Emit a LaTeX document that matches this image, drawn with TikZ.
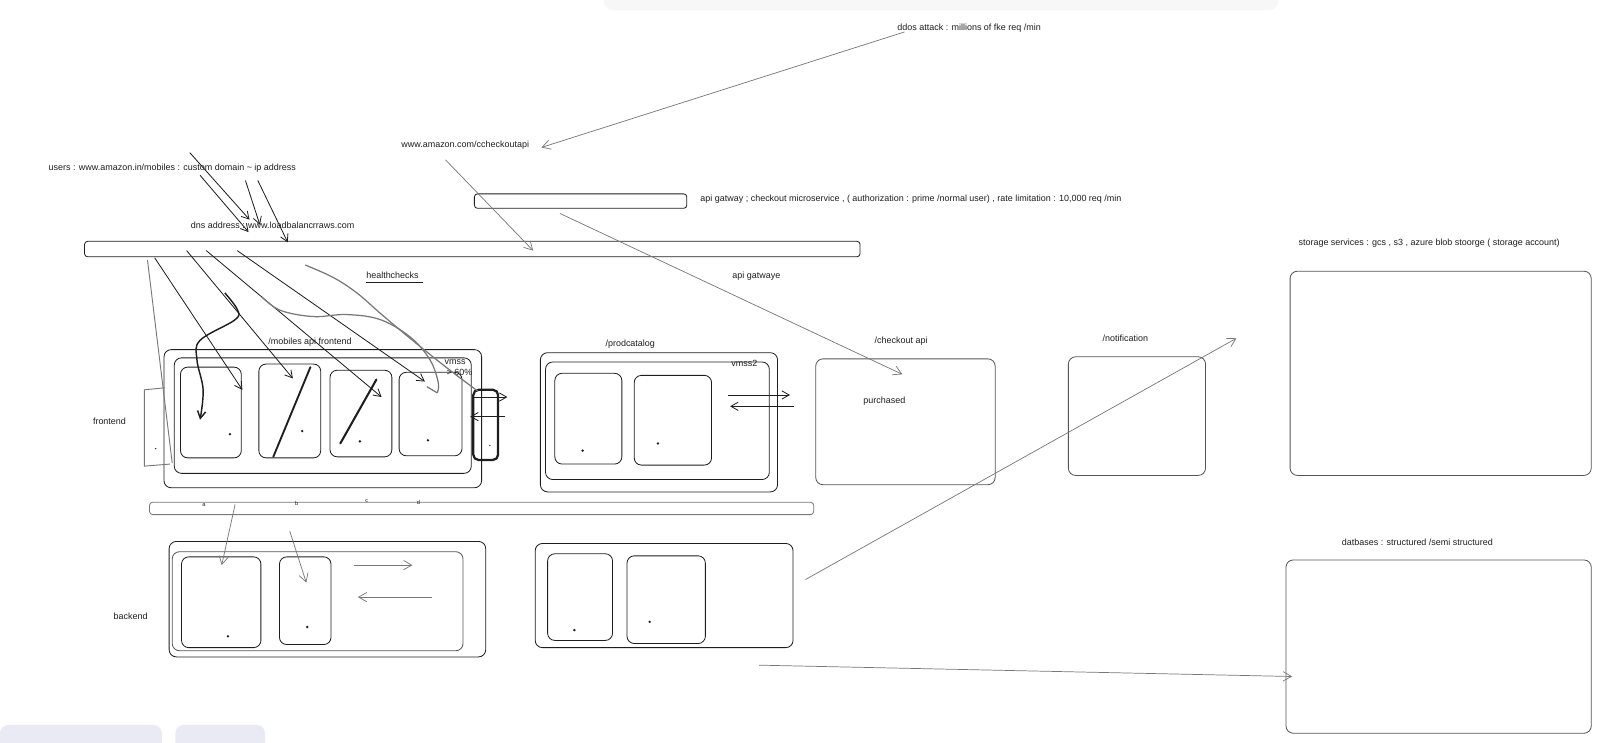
\documentclass[tikz,border=0pt]{standalone}
\usepackage{fontspec}
\setmainfont{Liberation Sans}
\usetikzlibrary{arrows.meta, positioning, fit}
\definecolor{cInk}{RGB}{30,30,30}
\definecolor{cSoft}{RGB}{120,120,120}
\definecolor{cMid}{RGB}{85,85,85}
\definecolor{cBtn}{RGB}{233,234,243}

\begin{document}
\begin{tikzpicture}[x=1pt, y=-1pt, font=\fontsize{8.7}{10}\selectfont,
            box/.style={draw=cInk, rounded corners=7pt, line width=0.8pt, inner sep=0pt},
            gbox/.style={box, draw=cMid},
            lbl/.style={anchor=west, inner sep=0pt, text=cInk},
            dot/.style={circle, fill=cInk, minimum size=2.6pt, inner sep=0pt},
            arr/.style={-{Straight Barb[length=7pt, width=8pt]}, cInk, line width=0.8pt},
            garr/.style={-{Straight Barb[length=8pt, width=9pt]}, cSoft, line width=0.7pt}]
            \useasboundingbox (0,0) rectangle (1568,720);
            % toolbar shadow and the two buttons
            \fill[gray!6, rounded corners=10pt] (585,-20) rectangle (1240,10);
            \fill[cBtn, rounded corners=8pt] (0,703) rectangle (157,735);
            \fill[cBtn, rounded corners=8pt] (170,703) rectangle (257,735);
            % boxes
            \foreach \n/\a/\b/\c/\d in {fo/159/339/467/473, fi/169/347/457/459,
                                        f1/175/356/234/444, f2/251/353/311/444,
                                        f3/320/359/380/443, f4/387/361/448/442,
                                        po/524/342/754/477, pi/529/351/746/465,
                                        p1/538/362/603/450, p2/615/364/690/451,
                                        bo/164/525/471/637, b1/176/540/253/628,
                                        b2/271/540/321/625, qo/519/527/769/628,
                                        q1/531/537/594/621, q2/608/539/684/624}{
                \node[box, fit={(\a,\b) (\c,\d)}] (\n) {};}
            \foreach \n/\a/\b/\c/\d in {co/791/348/965/470, no/1036/346/1169/461,
                                        st/1251/263/1543/461, db/1247/543/1543/711,
                                        bi/167/535/449/631}{
                \node[gbox, fit={(\a,\b) (\c,\d)}] (\n) {};}
            \node[box, rounded corners=3pt, fit={(460,188) (666,202)}] (gw) {};
            \node[box, rounded corners=3pt, fit={(82,234) (834,249)}] (lb) {};
            \node[gbox, draw=cSoft, rounded corners=3pt, fit={(145,487) (789,499)}] (ib) {};
            \node[box, line width=2.2pt, rounded corners=5pt, fit={(459,378) (483,446)}] (ts) {};
            % dots
            \foreach \i/\x/\y in {1/223/421, 2/293/418, 3/349/428, 4/415/427, 5/565/437, 6/638/430,
                                  7/221/617, 8/298/608, 9/557/611, 10/630/603}{
                \node[dot] (d\i) at (\x,\y) {};}
            \node[dot, minimum size=1.4pt] (d11) at (151,435) {};
            \node[dot, minimum size=1.4pt] (d12) at (475,432) {};
            % labels
            \node[lbl] (ddos) at (870,27) {ddos attack : millions of fke req /min};
            \node[lbl] (url) at (389,141) {www.amazon.com/ccheckoutapi};
            \node[lbl] (gwtxt) at (679,193) {api gatway ; checkout microservice , ( authorization : prime /normal user) , rate limitation : 10,000 req /min};
            \node[lbl] (users) at (47,163) {users : www.amazon.in/mobiles : custom domain \textasciitilde{} ip address};
            \node[lbl] (dns) at (185,218) {dns address : www.loadbalancrraws.com};
            \node[lbl] (hc) at (355,267) {healthchecks};
            \node[lbl] (apigw) at (710,268) {api gatwaye};
            \node[lbl] (stor) at (1259,236) {storage services : gcs , s3 , azure blob stoorge ( storage account)};
            \node[lbl] (dbs) at (1301,526) {datbases : structured /semi structured};
            \node[lbl] (mob) at (260,332) {/mobiles api frontend};
            \node[lbl] (vmss) at (431,351) {vmss};
            \node[lbl] (pct) at (433,361) {> 60\%};
            \node[lbl] (fe) at (90,409) {frontend};
            \node[lbl] (prod) at (587,334) {/prodcatalog};
            \node[lbl] (vmss2) at (709,352) {vmss2};
            \node[lbl] (chk) at (848,331) {/checkout api};
            \node[lbl] (purch) at (837,389) {purchased};
            \node[lbl] (notif) at (1069,328) {/notification};
            \node[lbl] (be) at (110,598) {backend};
            \foreach \t/\x/\y in {a/196/490, b/286/488, c/354/486, d/404/487}{
                \node[lbl, font=\fontsize{5.5}{6}\selectfont] (ib\t) at (\x,\y) {\t};}
            \draw[cInk, line width=1pt] (hc.south west) ++(0,4) -- ++(55,0);
            % arrow ends
            \foreach \n/\x/\y in {g1s/877/31, g1e/525/143, g2s/432/155, g2e/517/243,
                                  g3s/543/207, g3e/875/363, g4s/781/562, g4e/1199/328,
                                  g5s/736/645, g5e/1253/656, g6s/228/489, g6e/215/548,
                                  g7s/281/515, g7e/297/565, g8s/343/548, g8e/400/548,
                                  g9s/419/579, g9e/347/579}{
                \coordinate (\n) at (\x,\y);}
            \foreach \n/\x/\y in {k1s/184/148, k1e/242/213, k2s/194/170, k2e/241/225,
                                  k3s/238/175, k3e/252/218, k4s/250/175, k4e/279/235,
                                  k5s/150/250, k5e/235/378, k6s/181/243, k6e/284/367,
                                  k7s/200/243, k7e/370/385, k8s/230/243, k8e/412/370,
                                  k9s/706/383, k9e/766/383, k10s/770/394, k10e/708/394,
                                  k11s/458/385, k11e/492/385, k12s/490/404, k12e/456/404}{
                \coordinate (\n) at (\x,\y);}
            \foreach \i in {1,...,9}{\draw[garr] (g\i s) -- (g\i e);}
            \foreach \i in {1,...,12}{\draw[arr] (k\i s) -- (k\i e);}
            % scribbles
            \draw[arr, line width=1.4pt] plot[smooth, tension=0.6] coordinates
                {(218,284) (230,300) (228,310) (194,330) (191,349) (197,378) (194,407)};
            \draw[cInk, line width=1.8pt, line cap=round] (265,443) -- (301,356);
            \draw[cInk, line width=2pt, line cap=round] (330,430) -- (365,368);
            \draw[cSoft, line width=1.2pt] plot[smooth, tension=0.6] coordinates
                {(296,257) (323,269) (346,284) (369,304) (400,330) (435,358) (463,379)};
            \draw[cSoft, line width=1.2pt] plot[smooth, tension=0.6] coordinates
                {(254,288) (272,301) (304,307) (336,305) (369,310) (398,327) (417,349) (425,371) (424,381)};
            \draw[cSoft, line width=1.2pt] (414,375) -- (424,381);
            \draw[cSoft, line width=0.9pt] (143,252) -- (167,449);
            \draw[cSoft, line width=0.9pt] (160,376) -- (140,378) -- (140,452) -- (165,450);
        \end{tikzpicture}
\end{document}
